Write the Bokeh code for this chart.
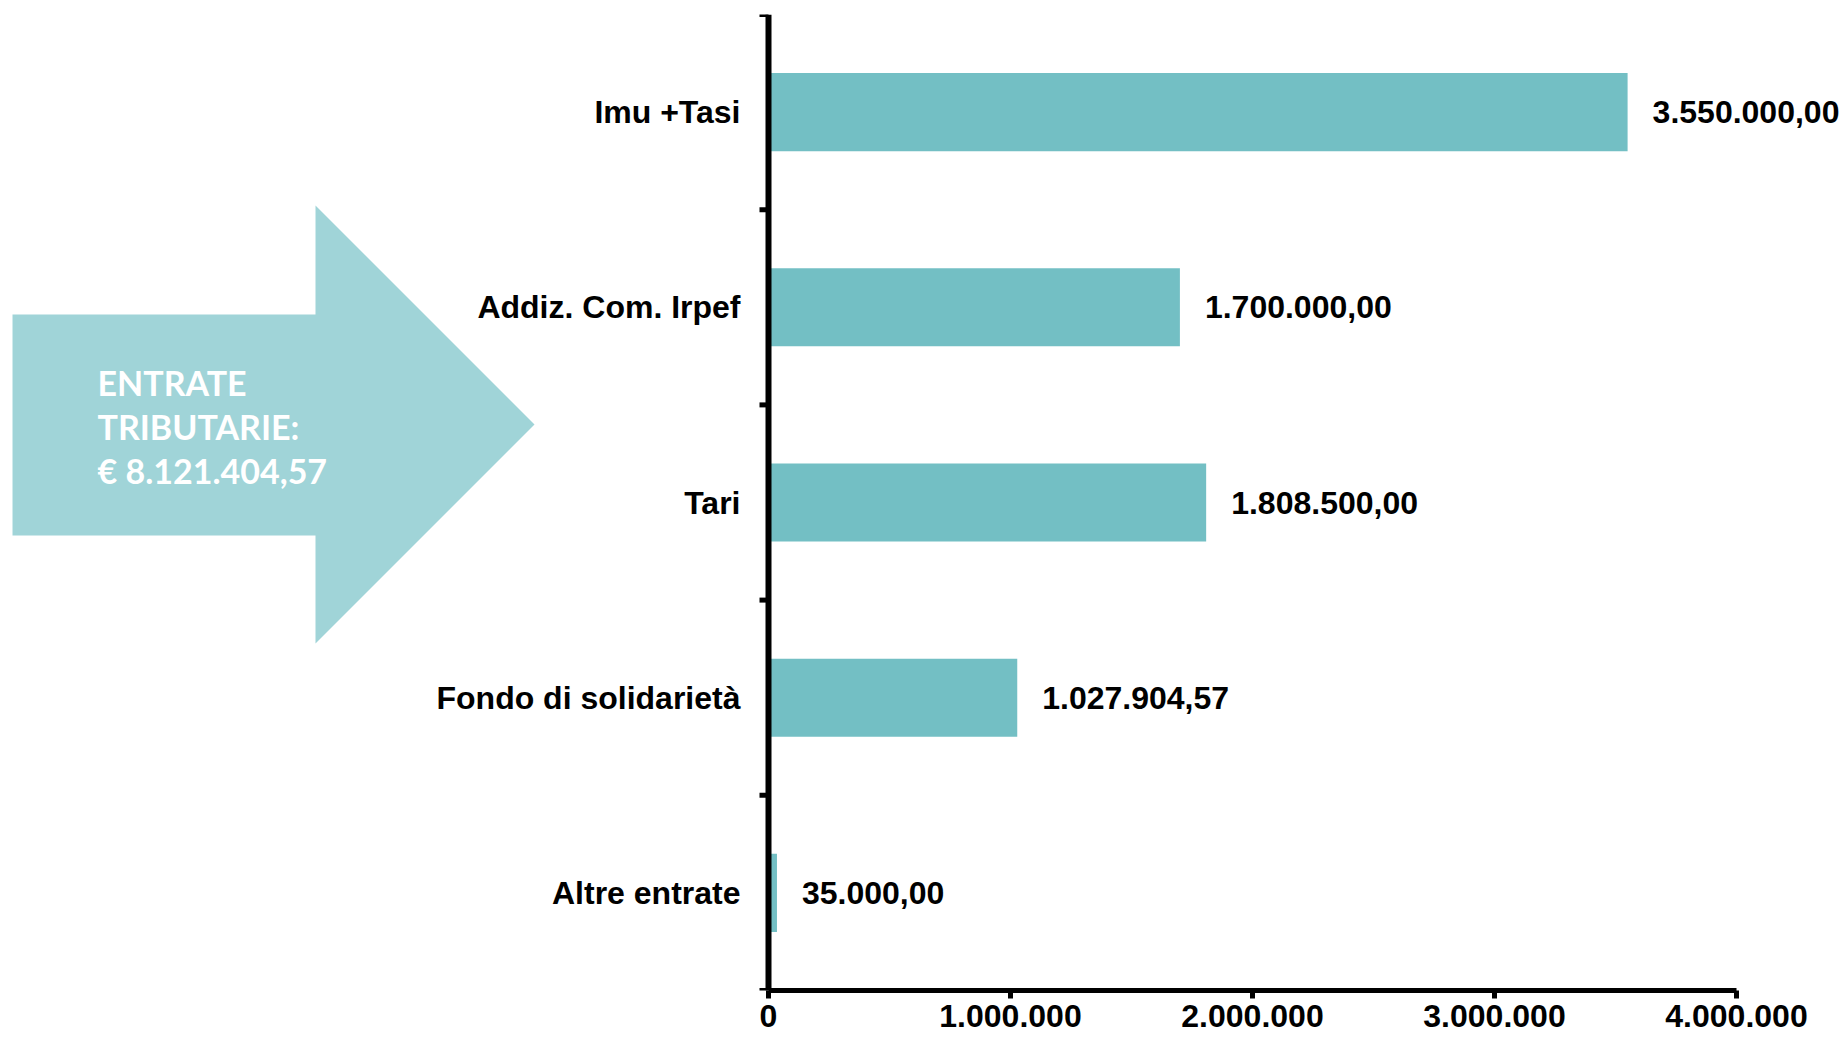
import numpy as np
from bokeh.plotting import figure
from bokeh.models import Range1d, FixedTicker, Span, ColumnDataSource
from bokeh.core.properties import value
from bokeh.embed import file_html
from bokeh.resources import INLINE

# ---- data ----
categories = ["Imu +Tasi", "Addiz. Com. Irpef", "Tari", "Fondo di solidarietà", "Altre entrate"]
values = [3550000.00, 1700000.00, 1808500.00, 1027904.57, 35000.00]
x_ticks = [0, 1000000, 2000000, 3000000, 4000000]
arrow_lines = ["ENTRATE", "TRIBUTARIE:", "€ 8.121.404,57"]

BAR = "#73BFC4"
ARROW = "#A0D4D8"

def it_num(v, dec=2):
    s = f"{v:,.{dec}f}"
    return s.replace(",", "X").replace(".", ",").replace("X", ".")

# ---- geometry (page pixels) ----
W, H = 1843, 1041
PAGE = 0
X0_PX = 768.0          # x = 0
PX_PER_UNIT = 242.0 / 1e6
FRAME_TOP_PX = 14.0
FRAME_BOT_PX = 990.0
n = len(categories)
ROW_PX = (FRAME_BOT_PX - FRAME_TOP_PX) / n

x_start = (PAGE - X0_PX) / PX_PER_UNIT
x_end = (PAGE + W - X0_PX) / PX_PER_UNIT

def px2x(px):
    return (px - X0_PX) / PX_PER_UNIT

def py2y(py):
    return (FRAME_BOT_PX - py) / ROW_PX

p = figure(width=W, height=H, output_backend="svg", toolbar_location=None,
           x_range=Range1d(x_start, x_end), y_range=Range1d(0, n),
           y_axis_location=None, x_axis_location="below",
           min_border_left=0, min_border_right=0, min_border_top=int(FRAME_TOP_PX - PAGE),
           min_border_bottom=int(H + PAGE - FRAME_BOT_PX))
p.outline_line_color = None
p.xgrid.grid_line_color = None
p.ygrid.grid_line_color = None
p.background_fill_color = "white"
p.border_fill_color = "white"

ypos = [n - i - 0.5 for i in range(n)]
src = ColumnDataSource(dict(cat=categories, val=values, y=ypos,
                            lab=[it_num(v) for v in values]))

# decorative arrow
ax = [12, 315, 315, 534, 315, 315, 12]
ay = [314, 314, 205, 424, 643, 535, 535]
p.patch([px2x(v) for v in ax], [py2y(v) for v in ay], fill_color=ARROW, line_color=None)
p.text(x=[px2x(97)] * 3, y=[py2y(v) for v in (382, 426, 470)], text=arrow_lines,
       text_font=value("Lato"), text_font_style="bold", text_font_size="34px",
       text_color="white", text_align="left", text_baseline="alphabetic")

# bars
p.hbar(y="y", right="val", left=0, height=0.4, source=src, fill_color=BAR, line_color=None)

# value labels
p.text(x="val", y="y", text="lab", source=src, x_offset=25,
       text_font=value("Liberation Sans"), text_font_style="bold", text_font_size="32px",
       text_color="black", text_align="left", text_baseline="middle")

# category labels (y axis)
p.text(x=0, y="y", text="cat", source=src, x_offset=-28,
       text_font=value("Liberation Sans"), text_font_style="bold", text_font_size="32px",
       text_color="black", text_align="right", text_baseline="middle")

# y axis line and boundary ticks
p.add_layout(Span(location=0, dimension="height", line_color="black", line_width=6))
p.ray(x=[0] * (n + 1), y=list(range(n + 1)), length=9, length_units="screen",
      angle=np.pi, line_color="black", line_width=5)

# x axis
xa = p.xaxis[0]
xa.ticker = FixedTicker(ticks=x_ticks)
xa.major_label_overrides = {t: it_num(t, 0) for t in x_ticks}
xa.bounds = (0, 4000000)
xa.axis_line_width = 5
xa.axis_line_color = "black"
xa.major_tick_line_width = 5
xa.major_tick_out = 8
xa.major_tick_in = 0
xa.minor_tick_line_color = None
xa.major_label_standoff = 6
xa.major_label_text_font = "Liberation Sans"
xa.major_label_text_font_style = "bold"
xa.major_label_text_font_size = "32px"
xa.major_label_text_color = "black"

open("out.html", "w").write(file_html(p, INLINE))
